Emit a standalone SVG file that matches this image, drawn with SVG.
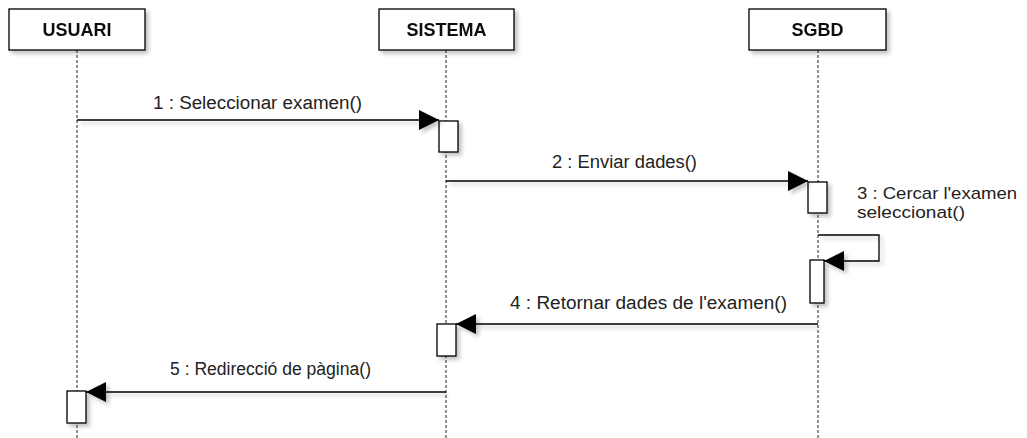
<svg xmlns="http://www.w3.org/2000/svg" width="1027" height="438" viewBox="0 0 1027 438">
  <style>
    .head { fill: #ffffff; stroke: #000000; stroke-width: 1.3; }
    .head-text { font-family: "Liberation Sans", Arial, sans-serif; font-size: 18px; font-weight: bold; fill: #111111; text-anchor: middle; }
    .life { stroke: #222222; stroke-width: 1; stroke-dasharray: 3 2; fill: none; }
    .act { fill: #ffffff; stroke: #000000; stroke-width: 1.3; }
    .msg { stroke: #000000; stroke-width: 1.3; fill: none; marker-end: url(#arrow); }
    .label { font-family: "Liberation Sans", Arial, sans-serif; font-size: 18px; fill: #222222; }
    .note { font-size: 17px; }
  </style>
  <defs>
    <filter id="shadow" x="-20%" y="-20%" width="150%" height="150%">
      <feGaussianBlur in="SourceAlpha" stdDeviation="2"/>
      <feOffset dx="3" dy="3" result="off"/>
      <feComponentTransfer><feFuncA type="linear" slope="0.25"/></feComponentTransfer>
      <feMerge><feMergeNode/><feMergeNode in="SourceGraphic"/></feMerge>
    </filter>
    <marker id="arrow" markerUnits="userSpaceOnUse" markerWidth="20" markerHeight="20" refX="20" refY="10" orient="auto">
      <path d="M0,0 L20,10 L0,20 Z" fill="#000000"/>
    </marker>
  </defs>
  <rect width="1027" height="438" fill="#ffffff"/>

  <!-- lifelines -->
  <g id="lifelines">
    <line class="life" x1="77" y1="50" x2="77" y2="438"/>
    <line class="life" x1="446" y1="50" x2="446" y2="438"/>
    <line class="life" x1="818" y1="50" x2="818" y2="438"/>
  </g>

  <!-- participants -->
  <g id="usuari" filter="url(#shadow)">
    <rect class="head" x="9" y="9" width="136" height="41"/>
    <text class="head-text" x="77" y="36">USUARI</text>
  </g>
  <g id="sistema" filter="url(#shadow)">
    <rect class="head" x="379" y="9" width="135" height="41"/>
    <text class="head-text" x="446.5" y="36">SISTEMA</text>
  </g>
  <g id="sgbd" filter="url(#shadow)">
    <rect class="head" x="749" y="9" width="137" height="41"/>
    <text class="head-text" x="817.5" y="36">SGBD</text>
  </g>

  <!-- activation bars -->
  <g id="activations" filter="url(#shadow)">
    <rect class="act" x="439" y="121" width="19" height="31"/>
    <rect class="act" x="808" y="182" width="19" height="31"/>
    <rect class="act" x="810" y="260" width="14" height="43"/>
    <rect class="act" x="437" y="324" width="19" height="32"/>
    <rect class="act" x="67" y="391" width="19" height="32"/>
  </g>

  <!-- messages -->
  <g id="connectors" filter="url(#shadow)">
    <line class="msg" x1="77" y1="120" x2="439" y2="120"/>
    <line class="msg" x1="446" y1="181" x2="808" y2="181"/>
    <path class="msg" d="M818,235 H879 V261 H824"/>
    <line class="msg" x1="818" y1="324" x2="456" y2="324"/>
    <line class="msg" x1="446" y1="392" x2="86" y2="392"/>
  </g>

  <!-- message labels -->
  <g id="labels">
    <text class="label" x="153" y="109" textLength="209" lengthAdjust="spacingAndGlyphs">1 : Seleccionar examen()</text>
    <text class="label" x="552" y="168" textLength="145" lengthAdjust="spacingAndGlyphs">2 : Enviar dades()</text>
    <text class="label note" x="857" y="199" textLength="160" lengthAdjust="spacingAndGlyphs">3 : Cercar l'examen</text>
    <text class="label note" x="857" y="218" textLength="108" lengthAdjust="spacingAndGlyphs">seleccionat()</text>
    <text class="label" x="510" y="309" textLength="277" lengthAdjust="spacingAndGlyphs">4 : Retornar dades de l'examen()</text>
    <text class="label" x="170" y="375" textLength="201" lengthAdjust="spacingAndGlyphs">5 : Redirecció de pàgina()</text>
  </g>
</svg>
